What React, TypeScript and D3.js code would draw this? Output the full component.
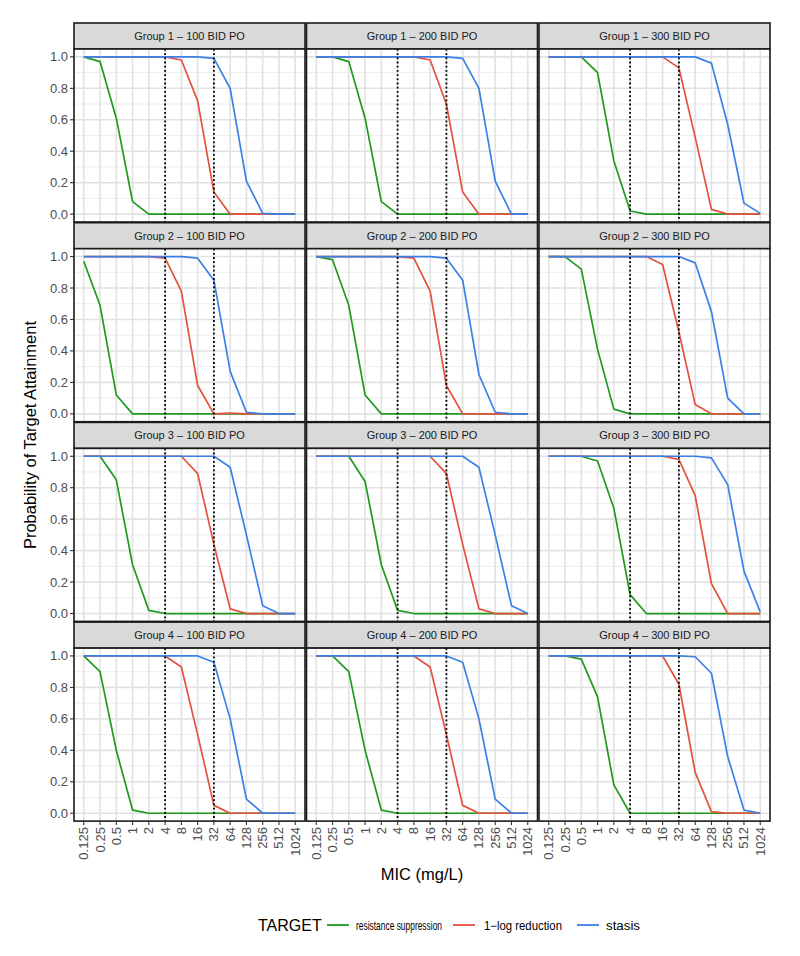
import React from "react";
import * as d3 from "d3";

const micLabels = ["0.125","0.25","0.5","1","2","4","8","16","32","64","128","256","512","1024"];
const groups = ["Group 1", "Group 2", "Group 3", "Group 4"];
const doses = ["100 BID PO", "200 BID PO", "300 BID PO"];
const targets = ["resistance suppression", "1\u2212log reduction", "stasis"];
const targetColors = ["#1f9a1f", "#e4513d", "#3a80e6"];
const yTicks = [0, 0.2, 0.4, 0.6, 0.8, 1.0];
const yMinor = [0.1, 0.3, 0.5, 0.7, 0.9];
const refLines = ["4", "32"];

// Group 1
const g1d100rs = [1, 0.97, 0.61, 0.08, 0, 0, 0, 0, 0, 0, 0, 0, 0, 0];
const g1d100lr = [1, 1, 1, 1, 1, 1, 0.98, 0.72, 0.14, 0, 0, 0, 0, 0];
const g1d100st = [1, 1, 1, 1, 1, 1, 1, 1, 0.99, 0.8, 0.21, 0.005, 0, 0];
const g1d200rs = [1, 1, 0.97, 0.61, 0.08, 0, 0, 0, 0, 0, 0, 0, 0, 0];
const g1d200lr = [1, 1, 1, 1, 1, 1, 1, 0.98, 0.7, 0.14, 0, 0, 0, 0];
const g1d200st = [1, 1, 1, 1, 1, 1, 1, 1, 1, 0.99, 0.8, 0.21, 0, 0];
const g1d300rs = [1, 1, 1, 0.9, 0.34, 0.02, 0, 0, 0, 0, 0, 0, 0, 0];
const g1d300lr = [1, 1, 1, 1, 1, 1, 1, 1, 0.93, 0.49, 0.03, 0, 0, 0];
const g1d300st = [1, 1, 1, 1, 1, 1, 1, 1, 1, 1, 0.96, 0.57, 0.07, 0.005];
// Group 2
const g2d100rs = [0.97, 0.69, 0.12, 0, 0, 0, 0, 0, 0, 0, 0, 0, 0, 0];
const g2d100lr = [1, 1, 1, 1, 1, 0.99, 0.78, 0.18, 0, 0.005, 0, 0, 0, 0];
const g2d100st = [1, 1, 1, 1, 1, 1, 1, 0.99, 0.85, 0.27, 0.01, 0, 0, 0];
const g2d200rs = [1, 0.98, 0.69, 0.12, 0, 0, 0, 0, 0, 0, 0, 0, 0, 0];
const g2d200lr = [1, 1, 1, 1, 1, 1, 0.99, 0.78, 0.18, 0, 0, 0, 0, 0];
const g2d200st = [1, 1, 1, 1, 1, 1, 1, 1, 0.99, 0.85, 0.25, 0.01, 0, 0];
const g2d300rs = [1, 1, 0.92, 0.41, 0.03, 0, 0, 0, 0, 0, 0, 0, 0, 0];
const g2d300lr = [1, 1, 1, 1, 1, 1, 1, 0.95, 0.52, 0.06, 0, 0, 0, 0];
const g2d300st = [1, 1, 1, 1, 1, 1, 1, 1, 1, 0.96, 0.65, 0.1, 0, 0];
// Group 3
const g3d100rs = [1, 1, 0.85, 0.31, 0.02, 0, 0, 0, 0, 0, 0, 0, 0, 0];
const g3d100lr = [1, 1, 1, 1, 1, 1, 1, 0.89, 0.44, 0.03, 0, 0, 0, 0];
const g3d100st = [1, 1, 1, 1, 1, 1, 1, 1, 1, 0.93, 0.5, 0.05, 0, 0];
const g3d200rs = [1, 1, 1, 0.84, 0.31, 0.02, 0, 0, 0, 0, 0, 0, 0, 0];
const g3d200lr = [1, 1, 1, 1, 1, 1, 1, 1, 0.89, 0.44, 0.03, 0, 0, 0];
const g3d200st = [1, 1, 1, 1, 1, 1, 1, 1, 1, 1, 0.93, 0.5, 0.05, 0];
const g3d300rs = [1, 1, 1, 0.97, 0.67, 0.12, 0, 0, 0, 0, 0, 0, 0, 0];
const g3d300lr = [1, 1, 1, 1, 1, 1, 1, 1, 0.98, 0.75, 0.19, 0, 0, 0];
const g3d300st = [1, 1, 1, 1, 1, 1, 1, 1, 1, 1, 0.99, 0.82, 0.27, 0.01];
// Group 4
const g4d100rs = [1, 0.9, 0.4, 0.02, 0, 0, 0, 0, 0, 0, 0, 0, 0, 0];
const g4d100lr = [1, 1, 1, 1, 1, 1, 0.93, 0.5, 0.05, 0, 0, 0, 0, 0];
const g4d100st = [1, 1, 1, 1, 1, 1, 1, 1, 0.96, 0.6, 0.09, 0, 0, 0];
const g4d200rs = [1, 1, 0.9, 0.4, 0.02, 0, 0, 0, 0, 0, 0, 0, 0, 0];
const g4d200lr = [1, 1, 1, 1, 1, 1, 1, 0.93, 0.5, 0.05, 0, 0, 0, 0];
const g4d200st = [1, 1, 1, 1, 1, 1, 1, 1, 1, 0.96, 0.6, 0.09, 0, 0];
const g4d300rs = [1, 1, 0.98, 0.74, 0.18, 0, 0, 0, 0, 0, 0, 0, 0, 0];
const g4d300lr = [1, 1, 1, 1, 1, 1, 1, 1, 0.82, 0.26, 0.01, 0, 0, 0];
const g4d300st = [1, 1, 1, 1, 1, 1, 1, 1, 1, 0.995, 0.89, 0.36, 0.02, 0];

const panelSeries = [
  [[g1d100rs, g1d100lr, g1d100st], [g1d200rs, g1d200lr, g1d200st], [g1d300rs, g1d300lr, g1d300st]],
  [[g2d100rs, g2d100lr, g2d100st], [g2d200rs, g2d200lr, g2d200st], [g2d300rs, g2d300lr, g2d300st]],
  [[g3d100rs, g3d100lr, g3d100st], [g3d200rs, g3d200lr, g3d200st], [g3d300rs, g3d300lr, g3d300st]],
  [[g4d100rs, g4d100lr, g4d100st], [g4d200rs, g4d200lr, g4d200st], [g4d300rs, g4d300lr, g4d300st]],
];

const W = 800;
const H = 956;
const FONT = "'Liberation Sans', Arial, Helvetica, sans-serif";
const left0 = 74;
const panelW = 231;
const colGap = 1.5;
const top0 = 23;
const stripH = 26;
const panelH = 173;
const rowPitch = 199.7;

export default function App() {
  const x = d3.scalePoint<string>().domain(micLabels).range([0, panelW]).padding(0.6);
  const y = d3.scaleLinear().domain([-0.05, 1.05]).range([panelH, 0]);
  const line = d3
    .line<number>()
    .x((_, i) => x(micLabels[i]) as number)
    .y((d) => y(d));

  const bottomRowY = top0 + 3 * rowPitch + stripH + panelH;
  const centerX = left0 + (3 * panelW + 2 * colGap) / 2;
  const centerY = (top0 + stripH + bottomRowY) / 2;

  const legendY = 925;
  const legendItems = [
    { x: 327, tx: 356, w: 86 },
    { x: 453, tx: 484, w: 78 },
    { x: 577, tx: 606, w: 34 },
  ];

  return (
    <svg
      width={W}
      height={H}
      viewBox={`0 0 ${W} ${H}`}
      style={{ position: "absolute", left: 0, top: 0, background: "#fff" }}
      fontFamily={FONT}
    >
      <rect x={0} y={0} width={W} height={H} fill="#fff" />
      {groups.map((g, r) =>
        doses.map((dz, c) => {
          const px = left0 + c * (panelW + colGap);
          const sy = top0 + r * rowPitch;
          const py = sy + stripH;
          const series = panelSeries[r][c];
          return (
            <g key={`${r}-${c}`}>
              <rect x={px} y={sy} width={panelW} height={stripH} fill="#d9d9d9" stroke="#1a1a1a" strokeWidth={1.6} />
              <text x={px + panelW / 2} y={sy + stripH / 2 + 4} textAnchor="middle" fontSize={11} fill="#1a1a1a">
                {`${g} \u2013 ${dz}`}
              </text>
              <g transform={`translate(${px},${py})`}>
                <rect x={0} y={0} width={panelW} height={panelH} fill="#fff" />
                {yMinor.map((t) => (
                  <line key={`mi${t}`} x1={0} x2={panelW} y1={y(t)} y2={y(t)} stroke="#ebebeb" strokeWidth={0.9} />
                ))}
                {yTicks.map((t) => (
                  <line key={`ma${t}`} x1={0} x2={panelW} y1={y(t)} y2={y(t)} stroke="#e2e2e2" strokeWidth={1.6} />
                ))}
                {micLabels.map((m) => (
                  <line key={`vx${m}`} x1={x(m)} x2={x(m)} y1={0} y2={panelH} stroke="#e2e2e2" strokeWidth={1.6} />
                ))}
                {series.map((s, k) => (
                  <path key={`s${k}`} d={line(s) || ""} fill="none" stroke={targetColors[k]} strokeWidth={1.7} strokeLinejoin="round" />
                ))}
                {refLines.map((m) => (
                  <line
                    key={`ref${m}`}
                    x1={x(m)}
                    x2={x(m)}
                    y1={0}
                    y2={panelH}
                    stroke="#000"
                    strokeWidth={1.8}
                    strokeDasharray="1.8 2.4"
                  />
                ))}
                <rect x={0} y={0} width={panelW} height={panelH} fill="none" stroke="#1a1a1a" strokeWidth={1.6} />
                {c === 0 &&
                  yTicks.map((t) => (
                    <g key={`yt${t}`}>
                      <line x1={-4} x2={0} y1={y(t)} y2={y(t)} stroke="#333" strokeWidth={1.1} />
                      <text x={-6} y={y(t) + 4.5} textAnchor="end" fontSize={13} fill="#4d4d4d">
                        {t.toFixed(1)}
                      </text>
                    </g>
                  ))}
                {r === 3 &&
                  micLabels.map((m) => (
                    <g key={`xt${m}`}>
                      <line x1={x(m)} x2={x(m)} y1={panelH} y2={panelH + 4} stroke="#333" strokeWidth={1.1} />
                      <text
                        transform={`translate(${(x(m) as number) + 4.5},${panelH + 6}) rotate(-90)`}
                        textAnchor="end"
                        fontSize={13}
                        fill="#4d4d4d"
                      >
                        {m}
                      </text>
                    </g>
                  ))}
              </g>
            </g>
          );
        })
      )}
      <text x={centerX} y={880} textAnchor="middle" fontSize={16.5} fill="#000">
        MIC (mg/L)
      </text>
      <text
        transform={`translate(36,${centerY}) rotate(-90)`}
        textAnchor="middle"
        fontSize={16.5}
        fill="#000"
      >
        Probability of Target Attainment
      </text>
      <text x={258} y={legendY + 5.5} fontSize={16} fill="#000">
        TARGET
      </text>
      {targets.map((t, i) => (
        <g key={t}>
          <line x1={legendItems[i].x} x2={legendItems[i].x + 22} y1={legendY} y2={legendY} stroke={targetColors[i]} strokeWidth={1.8} />
          <text x={legendItems[i].tx} y={legendY + 4.5} fontSize={12} fill="#000" textLength={legendItems[i].w} lengthAdjust="spacingAndGlyphs">
            {t}
          </text>
        </g>
      ))}
    </svg>
  );
}
